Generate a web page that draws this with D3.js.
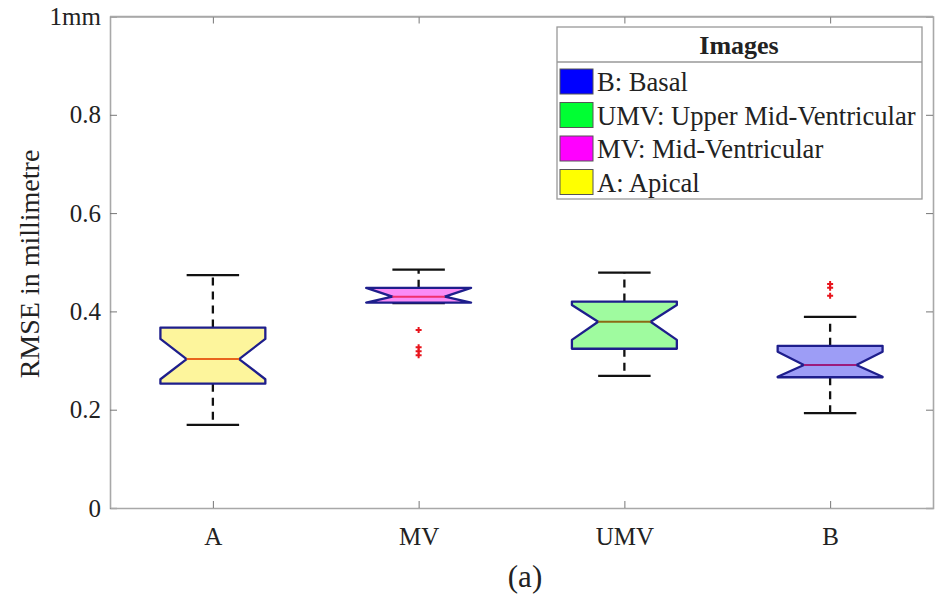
<!DOCTYPE html>
<html>
<head>
<meta charset="utf-8">
<script src="https://cdn.jsdelivr.net/npm/d3@7"></script>
<style>
  body { margin: 0; background: #fff; }
  text { font-family: "Liberation Serif", "Times New Roman", serif; fill: #222; }
</style>
</head>
<body>
<div id="chart"></div>
<script>
// box summary values (mm)
const categories = ["A", "MV", "UMV", "B"];
const whiskerLow  = [0.169, 0.417, 0.269, 0.193];
const q1          = [0.253, 0.418, 0.324, 0.266];
const notchLow    = [0.262, 0.418, 0.342, 0.267];
const median      = [0.303, 0.430, 0.379, 0.291];
const notchHigh   = [0.344, 0.448, 0.413, 0.318];
const q3          = [0.367, 0.448, 0.420, 0.330];
const whiskerHigh = [0.474, 0.485, 0.479, 0.389];
const outliers    = [[], [0.362, 0.327, 0.319, 0.311], [], [0.456, 0.448, 0.432]];

const yTicks = [0, 0.2, 0.4, 0.6, 0.8, 1];
const yTickLabels = ["0", "0.2", "0.4", "0.6", "0.8", "1mm"];

const fills   = ["#fdf59c", "#fa8cf6", "#9ffb9f", "#9d9df6"];
const medians = ["#e8641c", "#f0306e", "#8b6a14", "#9c1c7c"];

const legendItems = ["B: Basal", "UMV: Upper Mid-Ventricular", "MV: Mid-Ventricular", "A: Apical"];
const legendColors = ["#0000ff", "#00ff33", "#ff00ff", "#ffff00"];

const width = 945, height = 599;
const margin = { top: 16.5, right: 12, bottom: 91, left: 110 };

const svg = d3.select("#chart").append("svg")
    .attr("width", width)
    .attr("height", height);

const x = d3.scalePoint()
    .domain(categories)
    .range([margin.left, width - margin.right])
    .padding(0.5);

const y = d3.scaleLinear()
    .domain([0, 1])
    .range([height - margin.bottom, margin.top]);

const step = x.step();
const boxW = step * 0.51;
const notchW = boxW / 4;
const capW = boxW / 2;
const axisColor = "#a8a8a8";

// frame with inward ticks, MATLAB style
const pLeft = margin.left, pRight = width - margin.right;
const pTop = margin.top, pBottom = height - margin.bottom;

svg.append("g")
    .attr("transform", `translate(${pLeft},0)`)
    .call(d3.axisLeft(y).tickValues(yTicks).tickSize(-7).tickFormat((d, i) => yTickLabels[i]))
    .call(g => g.selectAll("text").attr("font-size", 25).attr("x", -9).attr("dy", "0.32em"));
svg.append("g")
    .attr("transform", `translate(${pRight},0)`)
    .call(d3.axisRight(y).tickValues(yTicks).tickSize(-7).tickFormat(""));
svg.append("g")
    .attr("transform", `translate(0,${pBottom})`)
    .call(d3.axisBottom(x).tickSize(-7).tickSizeOuter(0))
    .call(g => g.selectAll("text").attr("font-size", 25).attr("y", 37).attr("dy", 0));
svg.append("g")
    .attr("transform", `translate(0,${pTop})`)
    .call(d3.axisTop(x).tickSize(-7).tickSizeOuter(0).tickFormat(""));

svg.selectAll(".domain").attr("stroke", axisColor).attr("stroke-width", 1.6);
svg.selectAll(".tick line").attr("stroke", "#777").attr("stroke-width", 1);
svg.selectAll(".tick text").attr("fill", "#222");
svg.append("line").attr("x1", pLeft).attr("x2", pRight).attr("y1", pTop).attr("y2", pTop)
    .attr("stroke", axisColor).attr("stroke-width", 1.6);

// boxes
const boxes = categories.map((c, i) => ({
    c, i, lo: whiskerLow[i], q1: q1[i], nlo: notchLow[i], med: median[i],
    nhi: notchHigh[i], q3: q3[i], hi: whiskerHigh[i], out: outliers[i]
}));

const g = svg.append("g");
const bx = g.selectAll("g.box").data(boxes).join("g").attr("class", "box");

// whiskers
bx.append("line")
    .attr("x1", d => x(d.c)).attr("x2", d => x(d.c))
    .attr("y1", d => y(d.q3)).attr("y2", d => y(d.hi))
    .attr("stroke", "#111").attr("stroke-width", 2.3).attr("stroke-dasharray", "8,6");
bx.append("line")
    .attr("x1", d => x(d.c)).attr("x2", d => x(d.c))
    .attr("y1", d => y(d.q1)).attr("y2", d => y(d.lo))
    .attr("stroke", "#111").attr("stroke-width", 2.3).attr("stroke-dasharray", "8,6");
bx.selectAll("line.cap").data(d => [[d, d.hi], [d, d.lo]]).join("line")
    .attr("class", "cap")
    .attr("x1", d => x(d[0].c) - capW / 2).attr("x2", d => x(d[0].c) + capW / 2)
    .attr("y1", d => y(d[1])).attr("y2", d => y(d[1]))
    .attr("stroke", "#111").attr("stroke-width", 2.3);

// notched box outline
const notchPath = d => {
    const cx = x(d.c), h = boxW / 2, n = h - notchW;
    const pts = [
        [cx - h, y(d.q1)], [cx - h, y(d.nlo)], [cx - n, y(d.med)], [cx - h, y(d.nhi)],
        [cx - h, y(d.q3)], [cx + h, y(d.q3)], [cx + h, y(d.nhi)], [cx + n, y(d.med)],
        [cx + h, y(d.nlo)], [cx + h, y(d.q1)]
    ];
    return d3.line()(pts) + "Z";
};
bx.append("path")
    .attr("d", notchPath)
    .attr("fill", d => fills[d.i])
    .attr("stroke", "#1e1e8c")
    .attr("stroke-width", 2.3)
    .attr("stroke-linejoin", "round");
bx.append("line")
    .attr("x1", d => x(d.c) - (boxW / 2 - notchW)).attr("x2", d => x(d.c) + (boxW / 2 - notchW))
    .attr("y1", d => y(d.med)).attr("y2", d => y(d.med))
    .attr("stroke", d => medians[d.i]).attr("stroke-width", 2);

// outliers as red plus marks
bx.selectAll("path.out").data(d => d.out.map(v => [d.c, v])).join("path")
    .attr("class", "out")
    .attr("transform", d => `translate(${x(d[0])},${y(d[1])})`)
    .attr("d", "M-3,0H3M0,-3V3")
    .attr("stroke", "#e8141c").attr("stroke-width", 2);

// y label
svg.append("text")
    .attr("transform", `translate(39,264) rotate(-90)`)
    .attr("text-anchor", "middle")
    .attr("font-size", 28)
    .text("RMSE in millimetre");

// caption
svg.append("text")
    .attr("x", 525).attr("y", 587)
    .attr("text-anchor", "middle")
    .attr("font-size", 31)
    .text("(a)");

// legend
const lg = svg.append("g").attr("transform", "translate(557,27)");
lg.append("rect").attr("width", 365).attr("height", 172)
    .attr("fill", "#fff").attr("stroke", "#999").attr("stroke-width", 1.3);
lg.append("line").attr("x1", 0).attr("x2", 365).attr("y1", 35).attr("y2", 35)
    .attr("stroke", "#999").attr("stroke-width", 1.3);
lg.append("text").attr("x", 182).attr("y", 27)
    .attr("text-anchor", "middle").attr("font-size", 26).attr("font-weight", "bold")
    .text("Images");
const li = lg.selectAll("g.item").data(legendItems).join("g")
    .attr("class", "item")
    .attr("transform", (d, i) => `translate(3,${42 + i * 33.5})`);
li.append("rect").attr("width", 33).attr("height", 25)
    .attr("fill", (d, i) => legendColors[i]).attr("stroke", "#555").attr("stroke-width", 1);
li.append("text").attr("x", 37).attr("y", 22).attr("font-size", 26.6).text(d => d);
</script>
</body>
</html>
